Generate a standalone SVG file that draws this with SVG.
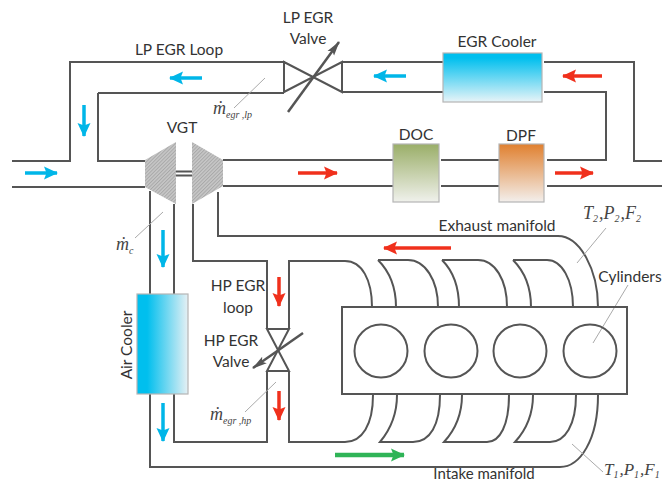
<svg xmlns="http://www.w3.org/2000/svg" width="662" height="481" viewBox="0 0 662 481">
<style>
.p{fill:none;stroke:#555;stroke-width:2;stroke-linejoin:miter}
.t{font-family:Lato,"Open Sans","Liberation Sans",sans-serif;font-size:15.500px;fill:#333;text-anchor:middle}
.m{font-family:"Liberation Serif",serif;font-style:italic;font-size:18px;fill:#444}
.s{font-size:10px}
.l{stroke:#aaa;stroke-width:1;fill:none}
.c{stroke:#00b6e8;stroke-width:3.5;fill:none;marker-end:url(#ac)}
.r{stroke:#f0301c;stroke-width:3.5;fill:none;marker-end:url(#ar)}
.g{stroke:#2fb457;stroke-width:4.5;fill:none;marker-end:url(#ag)}
.box{stroke:#b5b5b5;stroke-width:1.2}
</style>
<defs>
<marker id="ac" markerUnits="userSpaceOnUse" markerWidth="16" markerHeight="16" refX="13" refY="8" orient="auto"><path d="M0 1.500L14 8L0 14.500L2.500 8Z" fill="#00b6e8"/></marker>
<marker id="ar" markerUnits="userSpaceOnUse" markerWidth="16" markerHeight="16" refX="13" refY="8" orient="auto"><path d="M0 1.500L14 8L0 14.500L2.500 8Z" fill="#f0301c"/></marker>
<marker id="ag" markerUnits="userSpaceOnUse" markerWidth="16" markerHeight="16" refX="13" refY="8" orient="auto"><path d="M0 1.500L14 8L0 14.500L2.500 8Z" fill="#2fb457"/></marker>
<marker id="ad" markerUnits="userSpaceOnUse" markerWidth="16" markerHeight="10" refX="14" refY="5" orient="auto"><path d="M0 1L15 5L0 9L3 5Z" fill="#555"/></marker>
<linearGradient id="gc" x1="0" y1="0" x2="0" y2="1"><stop offset=".1" stop-color="#00bfee"/><stop offset="1" stop-color="#e8f4f8"/></linearGradient>
<linearGradient id="ga" x1="0" y1="0" x2="1" y2="0"><stop offset=".2" stop-color="#00bfee"/><stop offset="1" stop-color="#e6f0f4"/></linearGradient>
<linearGradient id="gd" x1="0" y1="0" x2="0" y2="1"><stop offset="0" stop-color="#9aae68"/><stop offset="1" stop-color="#f0f1ec"/></linearGradient>
<linearGradient id="gp" x1="0" y1="0" x2="0" y2="1"><stop offset="0" stop-color="#e0802f"/><stop offset="1" stop-color="#f3efec"/></linearGradient>
<pattern id="h" width="2.500" height="2.500" patternUnits="userSpaceOnUse" patternTransform="rotate(45)"><rect width="2.500" height="2.500" fill="#c8c8c8"/><rect width="1" height="2.500" fill="#a8a8a8"/></pattern>
</defs>
<rect width="662" height="481" fill="#fff"/>
<g id="connectors">
<path class="p" d="M12 161H70V62H284M98 93V161H145M98 93H284M12 187H145"/>
<path class="p" d="M342 62H443M342 92H443M544 62H634V161H662M544 92H606V160H547"/>
<path class="p" d="M223 160H393M223 186H393M441 160H499M441 186H499M547 186H662"/>
<path class="p" d="M176 171.500H192M176 175.500H192"/>
<path class="p" d="M150 191V294M174 204V294M150 394V467H560C580 467 598 440 598 395"/>
<path class="p" d="M174 394V442H267V371M193 204V261H267V329M289 329V261H345C362 261 372 280 372 307M289 371V442H345C362 442 373 425 373 395"/>
<path class="p" d="M218 192V236H558C580 236 598 270 598 307"/>
<path class="p" d="M378 260C388 270 396 285 396 307M378 260H408C425 260 438 280 438 307"/>
<path class="p" d="M442 260C452 270 459 285 459 307M442 260H478C495 260 507 280 507 307"/>
<path class="p" d="M513 260C523 270 531 285 531 307M513 260H547C562 260 573 280 573 307"/>
<path class="p" d="M397 395C397 415 390 430 380 442H413C430 442 440 425 440 395"/>
<path class="p" d="M462 395C462 415 455 430 444 442H487C500 442 509 425 509 395"/>
<path class="p" d="M533 395C533 415 526 430 515 442H550C565 442 576 425 576 395"/>
<path class="c" d="M25 173H57"/>
<path class="c" d="M84 105V136"/>
<path class="c" d="M202 78H170"/>
<path class="c" d="M406 76H374"/>
<path class="c" d="M163 230V267"/>
<path class="c" d="M163 403V441"/>
<path class="r" d="M298 173H337"/>
<path class="r" d="M602 76H563"/>
<path class="r" d="M555 173H593"/>
<path class="r" d="M279 277V306"/>
<path class="r" d="M279 391V420"/>
<path class="r" d="M451 248H384"/>
<path class="g" d="M335 455H404"/>
<path class="l" d="M234 108L265 78M135 238L163 212M606 228L577 263M628 285L593 343M572 444L603 472M245 412L276 382"/>
</g>
<g id="lp-egr-valve">
<path class="p" d="M284 62V92L342 62V92ZM284 62L342 92" fill="none"/>
<path d="M288 112L339 42" stroke="#555" stroke-width="2.500" fill="none" marker-end="url(#ad)"/>
<text class="t"><tspan x="308" y="23">LP EGR</tspan><tspan x="308" y="44">Valve</tspan></text>
</g>
<g id="hp-egr-valve">
<path class="p" d="M267 329H289L267 371H289ZM267 329L289 371"/>
<path d="M303 333L253 368" stroke="#555" stroke-width="2.500" fill="none" marker-end="url(#ad)"/>
<text class="t"><tspan x="231" y="346">HP EGR</tspan><tspan x="231" y="367">Valve</tspan></text>
</g>
<g id="vgt">
<path d="M145 160L176 142V204L145 187Z" fill="url(#h)"/>
<path d="M192 142L223 160V186L192 204Z" fill="url(#h)"/>
<text class="t" x="182" y="133">VGT</text>
</g>
<g id="egr-cooler">
<rect class="box" x="443" y="53" width="99" height="49" fill="url(#gc)"/>
<text class="t" x="497" y="47">EGR Cooler</text>
</g>
<g id="doc">
<rect class="box" x="393" y="144" width="46" height="58" fill="url(#gd)"/>
<text class="t" x="416" y="140">DOC</text>
</g>
<g id="dpf">
<rect class="box" x="499" y="144" width="45" height="58" fill="url(#gp)"/>
<text class="t" x="521" y="141">DPF</text>
</g>
<g id="air-cooler">
<rect class="box" x="137" y="294" width="51" height="100" fill="url(#ga)"/>
<text class="t" transform="translate(132 345) rotate(-90)">Air Cooler</text>
</g>
<g id="engine">
<rect class="p" x="342" y="307" width="285" height="87" fill="#fff"/>
<circle class="p" cx="381" cy="351" r="26.500"/>
<circle class="p" cx="451" cy="351" r="26.500"/>
<circle class="p" cx="520" cy="351" r="26.500"/>
<circle class="p" cx="590" cy="351" r="26.500"/>
</g>
<g id="labels">
<text class="t" x="179" y="55">LP EGR Loop</text>
<text class="t" x="497" y="231">Exhaust manifold</text>
<text class="t" x="630" y="282">Cylinders</text>
<text class="t" style="font-size:15px" x="484" y="478.500">Intake manifold</text>
<text class="t"><tspan x="238" y="291">HP EGR</tspan><tspan x="238" y="313">loop</tspan></text>
<text class="m" x="213" y="114">ṁ<tspan class="s" dy="4">egr ,lp</tspan></text>
<text class="m" x="116" y="250">ṁ<tspan class="s" dy="4">c</tspan></text>
<text class="m" x="210" y="420">ṁ<tspan class="s" dy="4">egr ,hp</tspan></text>
<text class="m" x="583" y="219">T<tspan class="s" dy="3">2</tspan><tspan dy="-3" dx="1">,P</tspan><tspan class="s" dy="3">2</tspan><tspan dy="-3" dx="1">,F</tspan><tspan class="s" dy="3">2</tspan></text>
<text class="m" style="font-size:17px" x="604" y="475">T<tspan class="s" dy="3">1</tspan><tspan dy="-3" dx="1">,P</tspan><tspan class="s" dy="3">1</tspan><tspan dy="-3" dx="1">,F</tspan><tspan class="s" dy="3">1</tspan></text>
</g>
</svg>
